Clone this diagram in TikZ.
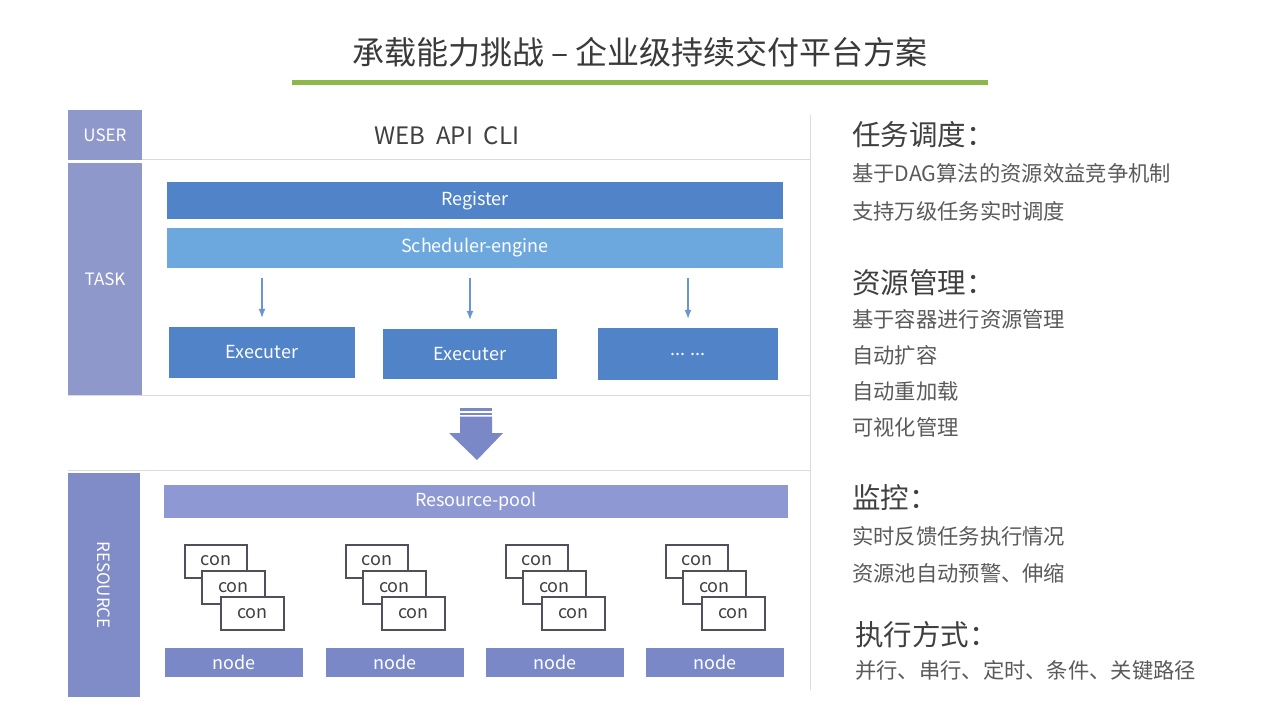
\documentclass[tikz,border=0pt]{standalone}
\usepackage{fontspec}
\setmainfont{Noto Sans CJK SC}
\usepackage{tikz}
\usetikzlibrary{positioning,calc,arrows.meta}

\definecolor{titlegray}{RGB}{64,64,64}
\definecolor{textgray}{RGB}{90,90,90}
\definecolor{linegreen}{RGB}{141,185,74}
\definecolor{gridgray}{RGB}{218,218,224}
\definecolor{labelblue}{RGB}{142,152,203}
\definecolor{resblue}{RGB}{128,140,200}
\definecolor{regblue}{RGB}{80,131,200}
\definecolor{schedblue}{RGB}{108,168,221}
\definecolor{poolblue}{RGB}{142,152,210}
\definecolor{nodeblue}{RGB}{122,136,200}
\definecolor{conframe}{RGB}{80,80,92}

\tikzset{
	layer/.style={fill=labelblue,text=white,inner sep=0pt,font=\fontsize{17}{20}\selectfont},
	bar/.style={fill=regblue,text=white,inner sep=0pt,font=\fontsize{18}{20}\selectfont},
	conbox/.style={draw=conframe,line width=2pt,fill=white,inner sep=0pt,
		minimum width=62pt,minimum height=33pt,text=titlegray,font=\fontsize{18}{20}\selectfont},
	nodebar/.style={fill=nodeblue,text=white,inner sep=0pt,minimum width=138pt,
		minimum height=29pt,font=\fontsize{18}{20}\selectfont},
	smallarr/.style={-{Latex[length=9pt,width=7pt]},line width=1.3pt,draw=regblue!85,
		shorten <=10pt,shorten >=9pt},
	head/.style={anchor=west,inner sep=0pt,text=titlegray,font=\fontsize{28.5}{30}\selectfont},
	item/.style={anchor=west,inner sep=0pt,text=textgray,font=\fontsize{21.3}{23}\selectfont},
	sep/.style={draw=gridgray,line width=1pt}
}

\begin{document}
\begin{tikzpicture}[x=1pt,y=-1pt]
	\useasboundingbox[fill=white] (0,0) rectangle (1280,719);
	
	% title and green rule
	\node (title) at (640,52) [text=titlegray!90!black,font=\fontsize{32}{34}\selectfont] {承载能力挑战 – 企业级持续交付平台方案};
	\draw[linegreen,line width=5pt] (292,83) -- (988,83);
	
	% separators
	\draw[sep] (142,160) -- (810,160);
	\draw[sep] (68,395) -- (810,395);
	\draw[sep] (68,470) -- (810,470);
	\draw[sep] (810,115) -- (810,690);
	
	% layer labels
	\node (user) at (105,135) [layer,minimum width=74pt,minimum height=50pt] {USER};
	\node (task) at (105,279) [layer,minimum width=74pt,minimum height=232pt] {TASK};
	\node (res) at (104,585) [layer,fill=resblue,rotate=-90,minimum width=224pt,minimum height=72pt] {RESOURCE};
	
	% user row
	\node (web) at (447,136) [text=titlegray,font=\fontsize{24}{26}\selectfont] {WEB\ \ API\ \ CLI};
	
	% task row
	\node (reg) at (475,200.5) [bar,minimum width=616pt,minimum height=37pt] {Register};
	\node (sched) at (475,248) [bar,fill=schedblue,minimum width=616pt,minimum height=40pt] {Scheduler-engine};
	\node (exe1) at (262,352.5) [bar,minimum width=186pt,minimum height=51pt] {Executer};
	\node (exe2) at (470,354) [bar,minimum width=174pt,minimum height=50pt] {Executer};
	\node (exe3) at (688,354) [bar,minimum width=180pt,minimum height=52pt] {... ...};
	\foreach \e in {exe1,exe2,exe3}
		\draw[smallarr] (sched.south -| \e.north) -- (\e.north);
	
	% big arrow down to the resources
	\fill[nodeblue] (460,408) rectangle (492,410.5);
	\fill[nodeblue] (460,412.5) rectangle (492,414.5);
	\fill[nodeblue] (460,416.5) -- (492,416.5) -- (492,433) -- (503,433)
		-- (477,460) -- (449,433) -- (460,433) -- cycle;
	
	% resource row
	\node (pool) at (476,501.5) [bar,fill=poolblue,minimum width=624pt,minimum height=33pt] {Resource-pool};
	\foreach \bx [count=\i] in {185,346,506,666}{
		\node (cona\i) at (\bx+31,561) [conbox] {con};
		\node (conb\i) at (\bx+48.5,587.5) [conbox,minimum width=63pt] {con};
		\node (conc\i) at (\bx+67.5,613.5) [conbox,minimum width=63pt] {con};
		\node (node\i) at (\bx+49,662.5) [nodebar] {node};
	}
	
	% right column
	\node (h1) at (852,135) [head] {任务调度：};
	\node (t11) at (852,173) [item] {基于DAG算法的资源效益竞争机制};
	\node (t12) at (852,211) [item] {支持万级任务实时调度};
	\node (h2) at (852,283) [head] {资源管理：};
	\node (t21) at (852,319) [item] {基于容器进行资源管理};
	\node (t22) at (852,355) [item] {自动扩容};
	\node (t23) at (852,391) [item] {自动重加载};
	\node (t24) at (852,427) [item] {可视化管理};
	\node (h3) at (852,498) [head] {监控：};
	\node (t31) at (852,536) [item] {实时反馈任务执行情况};
	\node (t32) at (852,573) [item] {资源池自动预警、伸缩};
	\node (h4) at (855,635) [head] {执行方式：};
	\node (t41) at (855,670) [item] {并行、串行、定时、条件、关键路径};
	
\end{tikzpicture}
\end{document}
